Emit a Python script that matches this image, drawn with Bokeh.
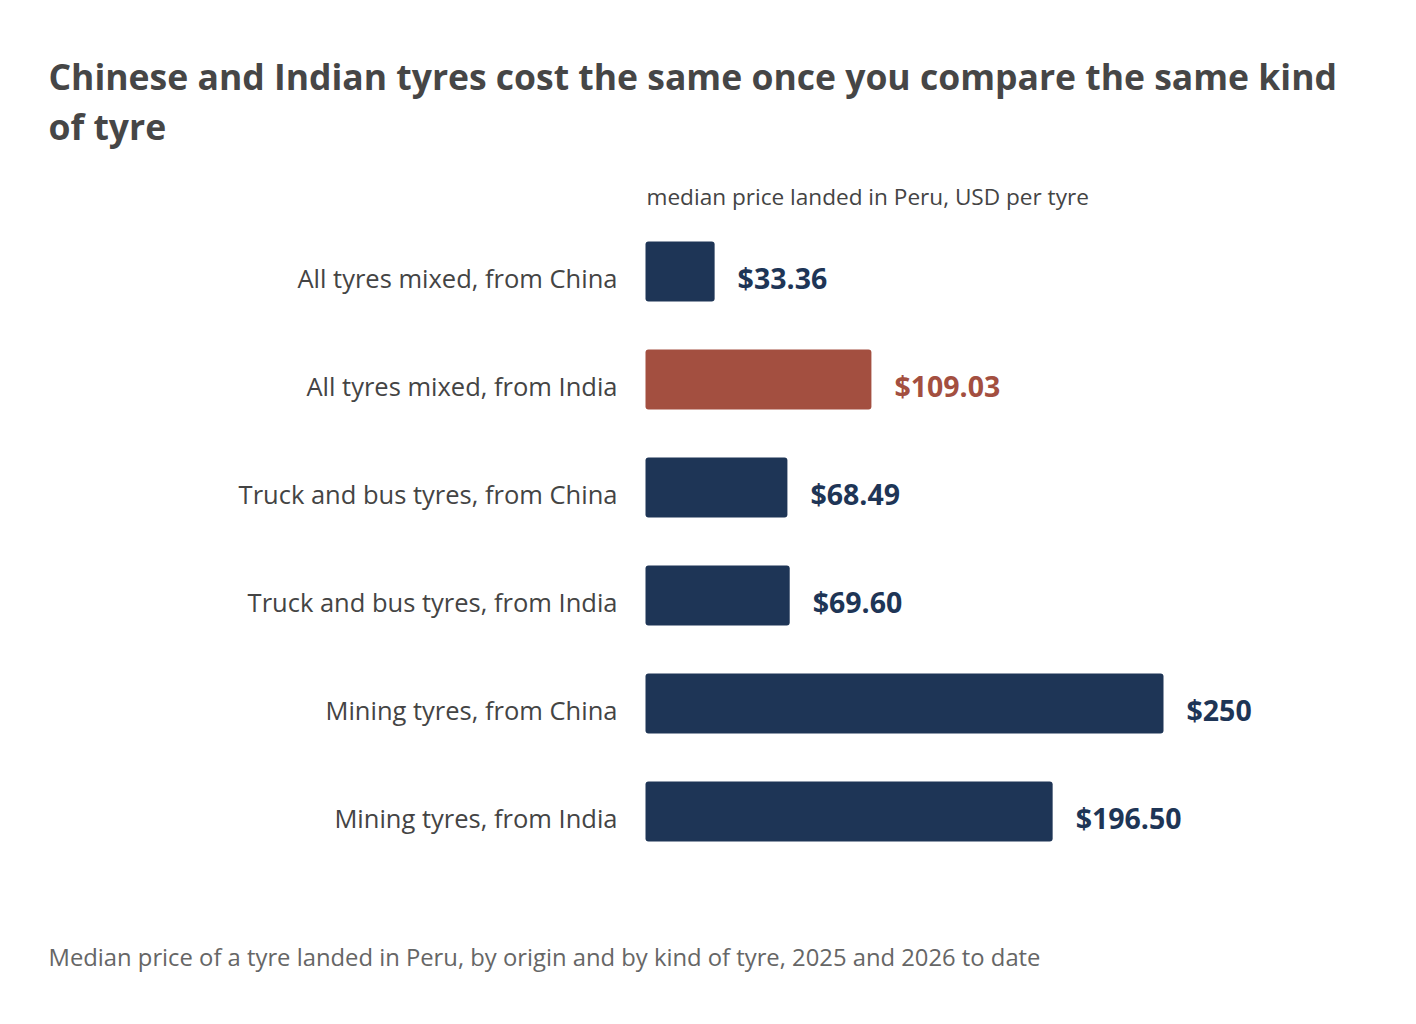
from bokeh.plotting import figure
from bokeh.models import Range1d, Label, ColumnDataSource
from bokeh.core.properties import value
from bokeh.embed import file_html
from bokeh.resources import INLINE

categories = [
    "All tyres mixed, from China",
    "All tyres mixed, from India",
    "Truck and bus tyres, from China",
    "Truck and bus tyres, from India",
    "Mining tyres, from China",
    "Mining tyres, from India",
]
prices = [33.36, 109.03, 68.49, 69.60, 250.0, 196.50]
price_labels = ["$33.36", "$109.03", "$68.49", "$69.60", "$250", "$196.50"]
highlight = [False, True, False, False, False, False]

title_lines = ["Chinese and Indian tyres cost the same once you compare the same kind", "of tyre"]
subtitle = "median price landed in Peru, USD per tyre"
footer = "Median price of a tyre landed in Peru, by origin and by kind of tyre, 2025 and 2026 to date"

BLUE = "#1e3556"
RED = "#a34f40"
FONT = "Open Sans"

colors = [RED if h else BLUE for h in highlight]
rows = list(range(len(categories)))
src = ColumnDataSource(dict(row=rows, cat=categories, price=prices, label=price_labels,
                            color=colors, zero=[0] * len(rows)))

W, H = 1400, 1008
x0_px = 645          # canvas x of value 0
row0_px = 271        # canvas y of first row centre
row_px = 108         # pixels per row
px_per_unit = 518 / 250.0
SHIFT = 10           # baseline correction

p = figure(
    width=W, height=H,
    x_range=Range1d(-x0_px / px_per_unit, (W - x0_px) / px_per_unit),
    y_range=Range1d((H - row0_px) / row_px, -row0_px / row_px),
    output_backend="svg", toolbar_location=None,
    min_border=0,
)
p.outline_line_color = None
p.grid.visible = False
p.axis.visible = False
p.background_fill_color = "white"
p.border_fill_color = "white"

p.hbar(y="row", left=0, right="price", height=60 / row_px, color="color", source=src,
       line_color=None, border_radius=3)

# category labels
p.text(x="zero", y="row", text="cat", source=src, x_offset=-28, y_offset=16 - SHIFT,
       text_color="#444444", text_font=value(FONT), text_font_size="25.5px",
       text_baseline="alphabetic", text_align="right")

# value labels
p.text(x="price", y="row", text="label", source=src, x_offset=23, y_offset=16 - SHIFT,
       text_color="color", text_font=value(FONT), text_font_size="28.5px",
       text_font_style="bold", text_baseline="alphabetic", text_align="left")

def add_label(txt, x, y, size, color, style="normal"):
    p.add_layout(Label(x=x, y=H - (y - SHIFT), x_units="screen", y_units="screen", text=txt,
                       text_font=FONT, text_font_size=size, text_color=color,
                       text_font_style=style, text_baseline="alphabetic", text_align="left"))

add_label(title_lines[0], 48, 85, "35.5px", "#464646", "bold")
add_label(title_lines[1], 48, 135, "35.5px", "#464646", "bold")
add_label(subtitle, 646, 206, "22.6px", "#444444")
add_label(footer, 48, 966, "23.8px", "#666666")

open("out.html", "w").write(file_html(p, INLINE))
